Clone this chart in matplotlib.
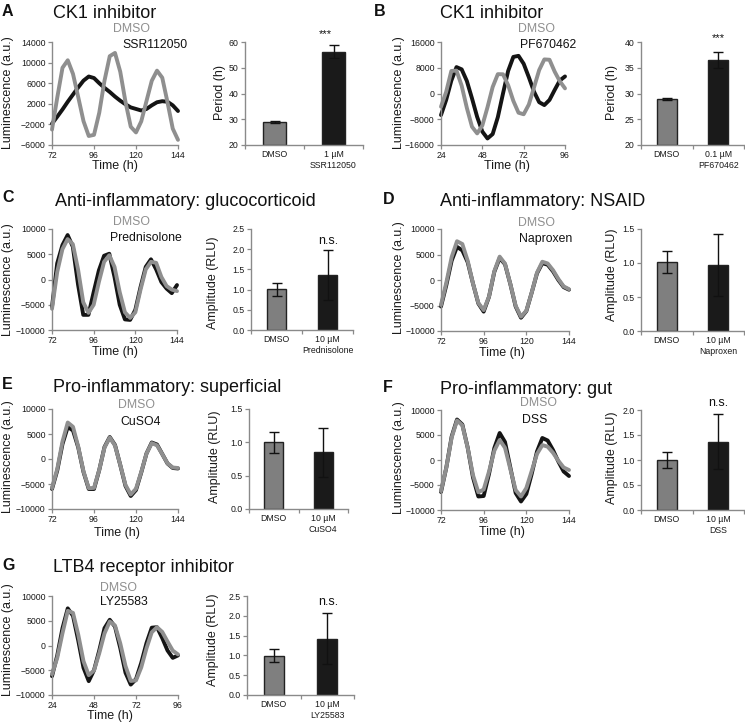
import matplotlib
matplotlib.use('Agg')
import matplotlib.pyplot as plt
from matplotlib.ticker import FormatStrFormatter

plt.rcParams['font.family'] = ['Liberation Sans', 'DejaVu Sans']

W, H = 745, 725
fig = plt.figure(figsize=(7.45, 7.25), dpi=100)

# ---------------- data ----------------
t_72_144 = [72, 75, 78, 81, 84, 87, 90, 93, 96, 99, 102, 105, 108, 111, 114, 117,
            120, 123, 126, 129, 132, 135, 138, 141, 144]
t_24_96 = [24, 27, 30, 33, 36, 39, 42, 45, 48, 51, 54, 57, 60, 63, 66, 69,
           72, 75, 78, 81, 84, 87, 90, 93, 96]

# A: CK1 inhibitor SSR112050
a_dmso = [-3000, 3200, 9000, 10450, 7800, 3280, -1370, -4250, -4030, 260, 6500, 11250,
          11880, 8230, 2360, -2450, -3560, -1410, 2550, 6460, 8440, 7070, 2300, -2820, -5000]
a_drug = [-1860, -500, 900, 2400, 3800, 5200, 6500, 7300, 7000, 6000, 5100, 4300,
          3400, 2600, 1900, 1300, 1000, 700, 1000, 1700, 2300, 2500, 2400, 1700, 600]
# B: CK1 inhibitor PF670462
b_dmso = [-4100, 500, 7000, 7110, 2420, -4460, -10330, -12400, -9940, -4270, 2020, 6010,
          5970, 2560, -2290, -5970, -6450, -3430, 1870, 7280, 10590, 10490, 6800, 3800, 1600]
b_drug = [-6700, -2000, 4000, 8200, 7500, 3900, -1520, -7280, -11830, -13970, -12600, -7350,
          0, 7040, 11370, 11700, 9240, 5060, 580, -2700, -3600, -2000, 1100, 4050, 5300]
# C: glucocorticoid
c_dmso = [-5800, 1500, 6000, 8000, 7000, 2000, -4500, -6600, -5000, -500, 3500, 4800,
          2500, -2500, -6500, -7600, -6500, -2000, 2000, 3500, 3300, 500, -1300, -2000, -2300]
c_drug = [-5400, 3200, 6800, 8800, 6500, -1000, -7000, -7000, -2500, 1800, 4700, 5100,
          500, -5000, -7900, -8000, -6000, -1500, 2500, 4000, 2000, -500, -1800, -2700, -1100]
# D: NSAID
d_dmso = [-4900, -500, 4500, 7600, 7060, 3790, -700, -4500, -5900, -3270, 1740, 4580,
          3210, -770, -5050, -7190, -6030, -2490, 1440, 3580, 3240, 1930, 200, -1250, -1800]
d_drug = [-5200, -1000, 3800, 6500, 5800, 3500, -700, -4600, -6200, -3300, 1600, 4300,
          3100, -800, -5200, -7400, -6100, -2500, 1300, 3300, 3000, 1700, 0, -1400, -1900]
# E: superficial
e_dmso = [-5800, -2000, 3500, 7300, 6440, 2450, -2490, -5840, -5780, -2180, 2300, 4300,
          2700, -1170, -5200, -7100, -5940, -2600, 1090, 3180, 2730, 980, -870, -1700, -1800]
e_drug = [-6000, -2300, 3000, 6400, 5700, 2300, -2600, -6000, -6000, -2200, 2400, 4400,
          2800, -1200, -5400, -7400, -6200, -2700, 1100, 3300, 2900, 1000, -900, -1800, -1900]
# F: gut
f_dmso = [-6200, -1500, 4500, 7900, 6940, 2460, -3030, -6450, -5900, -2310, 1860, 4000,
          2450, -1810, -6010, -7300, -5610, -2210, 1210, 2980, 2670, 1450, -150, -1500, -2000]
f_drug = [-6400, -1500, 4700, 8100, 7100, 2500, -3500, -7300, -7200, -2800, 2400, 5400,
          3600, -1500, -6600, -8300, -6800, -2800, 1700, 4400, 3900, 2000, -300, -2300, -3200]
# G: LTB4 receptor inhibitor
g_dmso = [-5800, -2500, 2500, 7000, 6590, 2190, -3180, -6000, -5050, -1560, 2440, 4850,
          4040, 440, -4150, -7170, -7050, -4420, -560, 2670, 3700, 2740, 810, -1030, -1800]
g_drug = [-6200, -2000, 3500, 7500, 6000, 1000, -4500, -7200, -5000, -1000, 3500, 5200,
          3800, -500, -5500, -7900, -6800, -3500, 500, 3600, 3700, 1500, -1000, -2500, -2000]

# bar data (mean, error)
a_bar = [28.9, 56.3]; a_err = [0.3, 2.6]
b_bar = [28.9, 36.5]; b_err = [0.25, 1.6]
c_bar = [1.01, 1.36]; c_err = [0.16, 0.62]
d_bar = [1.01, 0.97]; d_err = [0.16, 0.45]
e_bar = [1.00, 0.85]; e_err = [0.16, 0.37]
f_bar = [1.01, 1.37]; f_err = [0.16, 0.55]
g_bar = [0.99, 1.42]; g_err = [0.16, 0.64]

drug_names = ['SSR112050', 'PF670462', 'Prednisolone', 'Naproxen', 'CuSO4', 'DSS', 'LY25583']
dose_labels = ['1 µM', '0.1 µM', '10 µM', '10 µM', '10 µM', '10 µM', '10 µM']
titles = ['CK1 inhibitor', 'CK1 inhibitor', 'Anti-inflammatory: glucocorticoid',
          'Anti-inflammatory: NSAID', 'Pro-inflammatory: superficial',
          'Pro-inflammatory: gut', 'LTB4 receptor inhibitor']
letters = ['A', 'B', 'C', 'D', 'E', 'F', 'G']
signif = ['***', '***', 'n.s.', '', '', 'n.s.', 'n.s.']

# ---------------- style ----------------
GRAY_LINE = '#8f8f8f'
BLACK_LINE = '#141414'
GRAY_BAR = '#7f7f7f'
BLACK_BAR = '#1a1a1a'
SPINE = '#8a8a8a'
TXT = '#1a1a1a'


def rect(x0, x1, y0, y1):
    return [x0 / W, 1 - y1 / H, (x1 - x0) / W, (y1 - y0) / H]


def ftext(x, y, s, **kw):
    fig.text(x / W, 1 - y / H, s, **kw)


def style_axes(ax):
    for s in ['top', 'right']:
        ax.spines[s].set_visible(False)
    for s in ['left', 'bottom']:
        ax.spines[s].set_color(SPINE)
        ax.spines[s].set_linewidth(1.0)
    ax.tick_params(axis='both', which='both', direction='out', color=SPINE,
                   width=0.9, length=3, labelsize=6.3, labelcolor=TXT, pad=1.5)


def line_panel(r, t, dmso, drug, xticks, yticks):
    ax = fig.add_axes(rect(*r))
    ax.plot(t, drug, color=BLACK_LINE, lw=2.8, solid_joinstyle='round',
            solid_capstyle='round', clip_on=False)
    ax.plot(t, dmso, color=GRAY_LINE, lw=2.8, solid_joinstyle='round',
            solid_capstyle='round', clip_on=False)
    ax.set_xlim(xticks[0], xticks[-1])
    ax.set_ylim(yticks[0], yticks[-1])
    ax.set_xticks(xticks)
    ax.set_yticks(yticks)
    style_axes(ax)
    return ax


def bar_panel(r, vals, errs, yticks, fmt, dose, drug):
    ax = fig.add_axes(rect(*r))
    base = yticks[0]
    ax.bar([0, 1], [v - base for v in vals], bottom=base, width=0.38,
           color=[GRAY_BAR, BLACK_BAR], edgecolor='#222222', linewidth=1.0, zorder=2)
    ax.errorbar([0, 1], vals, yerr=errs, fmt='none', ecolor='#111111',
                elinewidth=1.0, capsize=3.5, capthick=1.0, zorder=3)
    ax.set_xlim(-0.5, 1.5)
    ax.set_ylim(yticks[0], yticks[-1])
    ax.set_yticks(yticks)
    ax.yaxis.set_major_formatter(FormatStrFormatter(fmt))
    ax.set_xticks([-0.5, 0.5, 1.5])
    ax.set_xticklabels([])
    ax.set_xticks([0, 1], minor=True)
    ax.set_xticklabels(['DMSO', dose + '\n' + drug], minor=True, fontsize=6.3,
                       linespacing=1.35, va='top')
    style_axes(ax)
    ax.tick_params(axis='x', which='minor', length=0, pad=3.5)
    return ax


# ---------------- layout (pixel positions) ----------------
line_rects = [(52, 178, 42, 145), (441, 565, 42, 145), (52, 177, 229, 330),
              (441, 569, 229, 331), (52, 178, 409, 509), (441, 569, 410, 510),
              (52, 178, 596, 695)]
bar_rects = [(245, 363, 42, 145), (641, 744, 42, 145), (251, 353, 229, 330),
             (641, 744, 229, 331), (249, 348, 409, 509), (641, 744, 410, 510),
             (247, 354, 596, 695)]
series = [(t_72_144, a_dmso, a_drug), (t_24_96, b_dmso, b_drug), (t_72_144, c_dmso, c_drug),
          (t_72_144, d_dmso, d_drug), (t_72_144, e_dmso, e_drug), (t_72_144, f_dmso, f_drug),
          (t_24_96, g_dmso, g_drug)]
bars = [(a_bar, a_err), (b_bar, b_err), (c_bar, c_err), (d_bar, d_err),
        (e_bar, e_err), (f_bar, f_err), (g_bar, g_err)]
xtick_sets = [[72, 96, 120, 144], [24, 48, 72, 96], [72, 96, 120, 144], [72, 96, 120, 144],
              [72, 96, 120, 144], [72, 96, 120, 144], [24, 48, 72, 96]]
ytick_sets = [[-6000, -2000, 2000, 6000, 10000, 14000],
              [-16000, -8000, 0, 8000, 16000]] + [[-10000, -5000, 0, 5000, 10000]] * 5
bar_yticks = [[20, 30, 40, 50, 60], [20, 25, 30, 35, 40], [0, 0.5, 1.0, 1.5, 2.0, 2.5],
              [0, 0.5, 1.0, 1.5], [0, 0.5, 1.0, 1.5], [0, 0.5, 1.0, 1.5, 2.0],
              [0, 0.5, 1.0, 1.5, 2.0, 2.5]]
bar_fmt = ['%d', '%d', '%.1f', '%.1f', '%.1f', '%.1f', '%.1f']
bar_ylabel = ['Period (h)', 'Period (h)'] + ['Amplitude (RLU)'] * 5

letter_pos = [(2, 11), (374, 11), (2, 198), (383, 200), (2, 385), (383, 387), (2, 565)]
title_pos = [(53, 13), (440, 13), (55, 202), (440, 202), (53, 388), (440, 390), (53, 568)]
dmso_pos = [(113, 29), (518, 29), (113, 222), (518, 223), (118, 405), (520, 403), (100, 588)]
drug_pos = [(122, 45), (520, 45), (110, 238), (519, 239), (120, 422), (522, 420), (100, 602)]
time_pos = [(115, 166), (507, 166), (115, 352), (502, 353), (117, 533), (502, 532), (110, 716)]
lum_pos = [(8, 93), (399, 93), (8, 280), (399, 278), (8, 457), (399, 458), (8, 640)]
ylab_pos = [(220, 93), (612, 93), (213, 283), (612, 275), (215, 457), (612, 458), (213, 640)]
sig_pos = [(325, 34), (718, 38), (328, 241), None, None, (718, 403), (328, 602)]

for i in range(7):
    t, dm, dr = series[i]
    line_panel(line_rects[i], t, dm, dr, xtick_sets[i], ytick_sets[i])
    bv, be = bars[i]
    bar_panel(bar_rects[i], bv, be, bar_yticks[i], bar_fmt[i], dose_labels[i], drug_names[i])

    ftext(*letter_pos[i], letters[i], fontsize=11.5, fontweight='bold', color='#111111',
          ha='left', va='center')
    ftext(*title_pos[i], titles[i], fontsize=13, color='#111111', ha='left', va='center')
    ftext(*dmso_pos[i], 'DMSO', fontsize=8.8, color=GRAY_LINE, ha='left', va='center')
    ftext(*drug_pos[i], drug_names[i], fontsize=8.8, color='#111111', ha='left', va='center')
    ftext(*time_pos[i], 'Time (h)', fontsize=9, color=TXT, ha='center', va='center')
    ftext(*lum_pos[i], 'Luminescence (a.u.)', fontsize=9, color=TXT, ha='center',
          va='center', rotation=90)
    ftext(*ylab_pos[i], bar_ylabel[i], fontsize=9, color=TXT, ha='center', va='center',
          rotation=90)
    if sig_pos[i] is not None:
        fs = 8 if signif[i] == '***' else 9
        ftext(*sig_pos[i], signif[i], fontsize=fs, color='#111111', ha='center', va='center')

fig.savefig('out.png', dpi=100)
